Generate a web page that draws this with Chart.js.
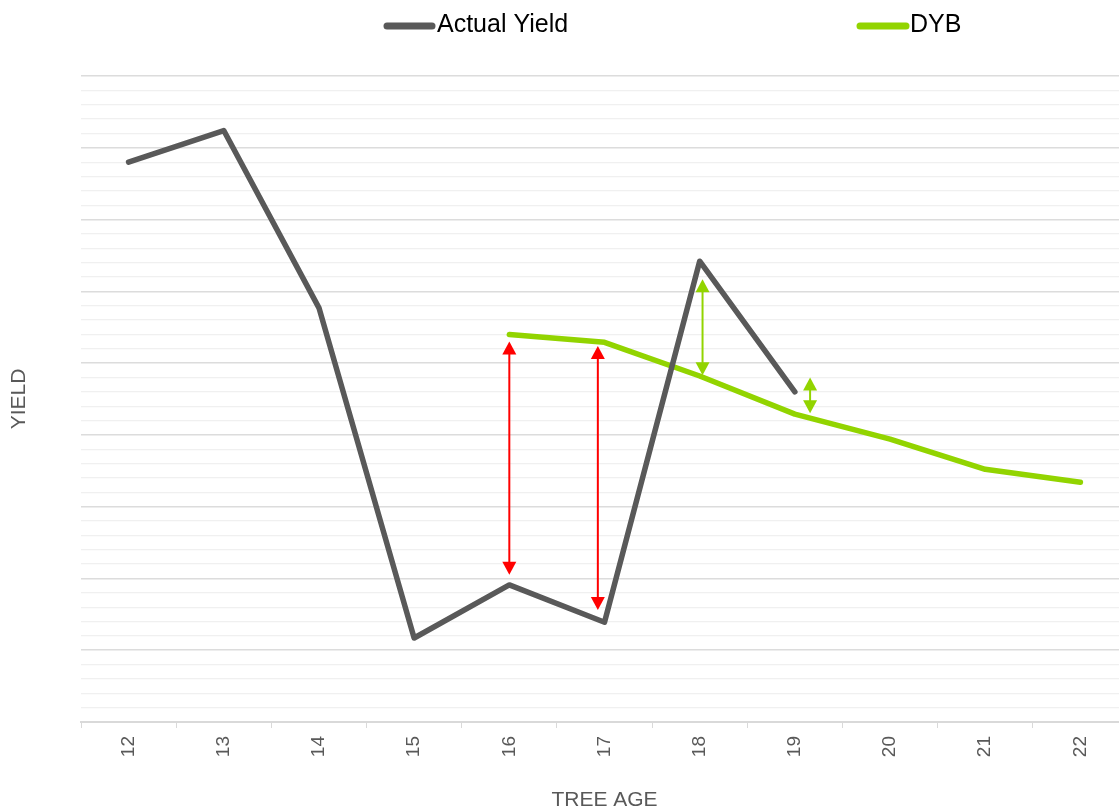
<!DOCTYPE html>
<html>
<head>
<meta charset="utf-8">
<title>Actual Yield vs DYB by Tree Age</title>
<script src="https://cdn.jsdelivr.net/npm/chart.js@4.4.1/dist/chart.umd.min.js"></script>
<style>
  html, body { margin: 0; padding: 0; background: #ffffff; overflow: hidden; }
  #wrap { position: relative; width: 1130px; height: 811px; }
</style>
</head>
<body>
<div id="wrap"><canvas id="chart" width="1130" height="811"></canvas></div>
<script>
// Tree ages along the x axis
const ages = ['12', '13', '14', '15', '16', '17', '18', '19', '20', '21', '22'];

// Yield series (no values where a series has no data)
const actualYield = [78.0, 82.4, 57.7, 11.7, 19.1, 13.9, 64.2, 46.0, null, null, null];
const dybYield    = [null, null, null, null, 54.0, 52.9, 48.2, 42.9, 39.4, 35.2, 33.4];

// Gap arrows between the two series: position on the age axis (category index) and the yield span
const arrowAt     = [4.0, 4.93, 6.03, 7.16];
const arrowTop    = [53.0, 52.4, 61.7, 48.0];
const arrowBottom = [20.5, 15.6, 48.3, 43.0];
const arrowKind   = ['below', 'below', 'above', 'above'];

const GREY = '#595959';
const GREEN = '#92d400';
const RED = '#ff0000';

// Double-headed arrows drawn in data space through the chart scales
const gapArrows = {
  id: 'gapArrows',
  afterDatasetsDraw(chart) {
    const { ctx, scales: { x, y } } = chart;
    ctx.save();
    arrowAt.forEach((pos, i) => {
      const color = arrowKind[i] === 'below' ? RED : GREEN;
      const px = x.getPixelForValue(pos);
      const yTop = y.getPixelForValue(arrowTop[i]);
      const yBot = y.getPixelForValue(arrowBottom[i]);
      const headH = 13, headW = 7;
      ctx.strokeStyle = color;
      ctx.fillStyle = color;
      ctx.lineWidth = 2;
      ctx.beginPath();
      ctx.moveTo(px, yTop + headH - 1);
      ctx.lineTo(px, yBot - headH + 1);
      ctx.stroke();
      ctx.beginPath();
      ctx.moveTo(px, yTop);
      ctx.lineTo(px - headW, yTop + headH);
      ctx.lineTo(px + headW, yTop + headH);
      ctx.closePath();
      ctx.fill();
      ctx.beginPath();
      ctx.moveTo(px, yBot);
      ctx.lineTo(px - headW, yBot - headH);
      ctx.lineTo(px + headW, yBot - headH);
      ctx.closePath();
      ctx.fill();
    });
    ctx.restore();
  }
};

// Legend row across the top
const topLegend = {
  id: 'topLegend',
  afterDraw(chart) {
    const { ctx } = chart;
    const items = [
      { ds: 0, x0: 387, x1: 432, tx: 437 },
      { ds: 1, x0: 860, x1: 906, tx: 910 }
    ];
    ctx.save();
    items.forEach(it => {
      const ds = chart.data.datasets[it.ds];
      ctx.strokeStyle = ds.borderColor;
      ctx.lineWidth = 7;
      ctx.lineCap = 'round';
      ctx.beginPath();
      ctx.moveTo(it.x0, 26);
      ctx.lineTo(it.x1, 26);
      ctx.stroke();
      ctx.fillStyle = '#000000';
      ctx.font = '25px "Liberation Sans", Arial, sans-serif';
      ctx.textBaseline = 'middle';
      ctx.textAlign = 'left';
      ctx.fillText(ds.label, it.tx, 25);
    });
    ctx.restore();
  }
};

new Chart(document.getElementById('chart'), {
  type: 'line',
  data: {
    labels: ages,
    datasets: [
      {
        label: 'Actual Yield',
        data: actualYield,
        borderColor: GREY,
        backgroundColor: GREY,
        borderWidth: 5.5,
        pointRadius: 0,
        tension: 0,
        borderCapStyle: 'round',
        borderJoinStyle: 'round',
        spanGaps: false
      },
      {
        label: 'DYB',
        data: dybYield,
        borderColor: GREEN,
        backgroundColor: GREEN,
        borderWidth: 5.5,
        pointRadius: 0,
        tension: 0,
        borderCapStyle: 'round',
        borderJoinStyle: 'round',
        spanGaps: false
      }
    ]
  },
  options: {
    responsive: false,
    animation: false,
    layout: { padding: { top: 76, right: 2, left: 0, bottom: 0 } },
    plugins: {
      legend: { display: false },
      tooltip: { enabled: false }
    },
    scales: {
      x: {
        offset: true,
        grid: {
          offset: true,
          drawOnChartArea: false,
          drawTicks: true,
          tickLength: 6,
          color: '#d9d9d9'
        },
        border: { display: true, color: '#d9d9d9', width: 2 },
        ticks: {
          minRotation: 90,
          maxRotation: 90,
          padding: 8,
          color: GREY,
          font: { family: '"Liberation Sans", Arial, sans-serif', size: 19 }
        },
        title: {
          display: true,
          text: 'TREE AGE',
          color: GREY,
          font: { family: '"Liberation Sans", Arial, sans-serif', size: 21 },
          padding: { top: 0, bottom: -2 }
        },
        afterFit(scale) { scale.height = 89; }
      },
      y: {
        min: 0,
        max: 90,
        border: { display: false },
        ticks: { display: false, stepSize: 2 },
        grid: {
          drawTicks: false,
          color: ctx => (ctx.tick && ctx.tick.value % 10 === 0) ? '#dcdcdc' : '#f0f0f0',
          lineWidth: ctx => (ctx.tick && ctx.tick.value % 10 === 0) ? 1.6 : 1.2
        },
        title: {
          display: true,
          text: 'YIELD',
          color: GREY,
          font: { family: '"Liberation Sans", Arial, sans-serif', size: 21 },
          padding: { top: 7, bottom: 0 }
        },
        afterFit(scale) { scale.width = 81; }
      }
    }
  },
  plugins: [gapArrows, topLegend]
});
</script>
</body>
</html>
